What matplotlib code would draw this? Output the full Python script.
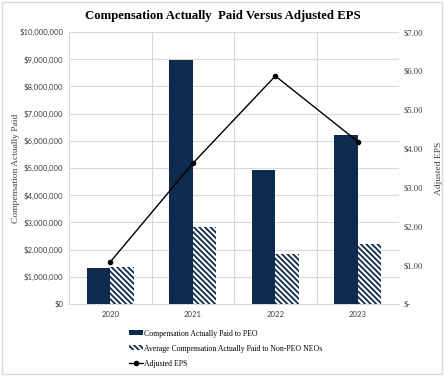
import matplotlib.pyplot as plt
from matplotlib.patches import Rectangle
from matplotlib.ticker import FuncFormatter
import numpy as np

years = ["2020", "2021", "2022", "2023"]
peo_cap = [1320000, 8980000, 4940000, 6200000]
neo_cap = [1350000, 2840000, 1840000, 2200000]
adj_eps = [1.08, 3.62, 5.87, 4.18]

navy = "#0e2b4d"
grid_c = "#d9d9d9"
serif = ["Liberation Serif", "DejaVu Serif"]
sans = ["Lato", "DejaVu Sans"]

plt.rcParams["hatch.linewidth"] = 1.3
plt.rcParams["hatch.color"] = navy

fig = plt.figure(figsize=(4.45, 3.78), dpi=100)
ax = fig.add_axes([0.155, 0.196, 0.742, 0.719])
ax2 = ax.twinx()

x = np.arange(len(years))
w = 0.285
ax.bar(x - w / 2, peo_cap, w, color=navy, label="Compensation Actually Paid to PEO", zorder=3)
ax.bar(x + w / 2, neo_cap, w, color="white", edgecolor=navy, linewidth=0, hatch="\\\\\\\\\\\\",
       label="Average Compensation Actually Paid to Non-PEO NEOs", zorder=3)
ax2.plot(x, adj_eps, color="black", lw=1, marker="o", ms=3, label="Adjusted EPS", zorder=4)

ax.set_xlim(-0.5, 3.5)
ax.set_ylim(0, 10000000)
ax.set_yticks(np.arange(0, 10000001, 1000000))
ax.yaxis.set_major_formatter(FuncFormatter(lambda v, p: "${:,.0f}".format(v)))
ax2.set_ylim(0, 7)
ax2.set_yticks(np.arange(0, 8, 1))
ax2.yaxis.set_major_formatter(FuncFormatter(lambda v, p: "$-" if v == 0 else "${:.2f}".format(v)))

ax.set_xticks(x)
ax.set_xticklabels(years)
ax.set_xticks(np.arange(-0.5, 4, 1), minor=True)
ax.grid(axis="y", color=grid_c, lw=0.8, zorder=0)
ax.grid(axis="x", which="minor", color=grid_c, lw=0.8, zorder=0)
ax.tick_params(axis="both", which="both", length=0)
ax.tick_params(axis="y", pad=4)
ax.tick_params(axis="x", pad=5)
ax2.tick_params(axis="y", length=0, pad=3)
for lab in ax.get_yticklabels() + ax.get_xticklabels():
    lab.set_fontfamily(sans)
    lab.set_fontsize(5.6)
    lab.set_color("#404040")
for lab in ax2.get_yticklabels():
    lab.set_fontfamily(serif)
    lab.set_fontsize(6.2)
    lab.set_color("#404040")

for a in (ax, ax2):
    for s in a.spines.values():
        s.set_visible(False)
ax.spines["bottom"].set_visible(True)
ax.spines["bottom"].set_color(grid_c)

ax.set_ylabel("Compensation Actually Paid", family=serif, fontsize=6.8, color="#404040")
ax.yaxis.set_label_coords(-49 / 330, 0.5)
ax2.set_ylabel("Adjusted EPS", family=serif, fontsize=6.8, color="#404040", rotation=90)
ax2.yaxis.set_label_coords(1 + 36 / 330, 0.5)

fig.text(0.5, 0.958, "Compensation Actually  Paid Versus Adjusted EPS", ha="center", va="center",
         family=serif, fontsize=9.2, fontweight="bold")

h1, l1 = ax.get_legend_handles_labels()
h2, l2 = ax2.get_legend_handles_labels()
fig.legend(h1 + h2, l1 + l2, loc="upper left", bbox_to_anchor=(0.283, 0.136), frameon=False,
           prop={"family": serif, "size": 5.6}, handlelength=1.8, handleheight=0.6,
           handletextpad=0.15, labelspacing=0.9, borderaxespad=0)

fig.patches.append(Rectangle((0.004, 0.01), 0.99, 0.985, transform=fig.transFigure,
                             fill=False, edgecolor=grid_c, lw=1))

fig.savefig("out.png", dpi=100)
